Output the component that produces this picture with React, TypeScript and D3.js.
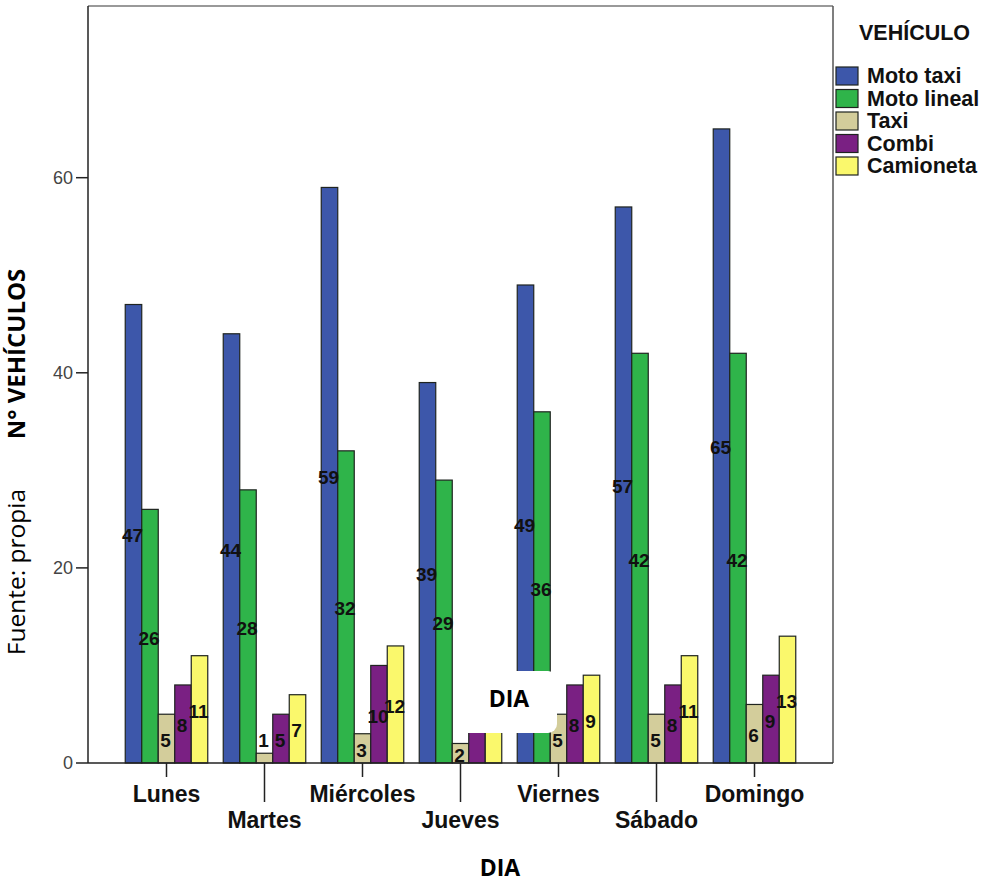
import React from "react";
import * as d3 from "d3";

// Vehicles counted per weekday, by vehicle type
const days = ["Lunes", "Martes", "Miércoles", "Jueves", "Viernes", "Sábado", "Domingo"];
const vehicleTypes = ["Moto taxi", "Moto lineal", "Taxi", "Combi", "Camioneta"];
const motoTaxi = [47, 44, 59, 39, 49, 57, 65];
const motoLineal = [26, 28, 32, 29, 36, 42, 42];
const taxi = [5, 1, 3, 2, 5, 5, 6];
const combi = [8, 5, 10, 9, 8, 8, 9];
const camioneta = [11, 7, 12, 9, 9, 11, 13];
const yTicks = [0, 20, 40, 60];

const seriesValues = [motoTaxi, motoLineal, taxi, combi, camioneta];
const colors = ["#3d57aa", "#2fb44a", "#d3cd9b", "#7a2083", "#faf86c"];

const W = 994;
const H = 883;
const left = 88;
const right = 833;
const top = 6;
const bottom = 763;

export default function App() {
  const x0 = d3
    .scaleBand<string>()
    .domain(days)
    .range([left, right])
    .paddingInner(0.158)
    .paddingOuter(0.38);
  const x1 = d3
    .scaleBand<string>()
    .domain(vehicleTypes)
    .range([0, x0.bandwidth()])
    .padding(0);
  const y = d3.scaleLinear().domain([0, 77.6]).range([bottom, top]);

  const labelFont = "'Liberation Sans', Arial, sans-serif";
  const titleFont = "'Open Sans', 'Noto Sans', sans-serif";

  return (
    <svg
      width={W}
      height={H}
      style={{ position: "absolute", left: 0, top: 0, background: "#fff" }}
      fontFamily={labelFont}
    >
      <rect x={0} y={0} width={W} height={H} fill="#fff" />

      {/* plot frame */}
      <line x1={left} x2={right} y1={top} y2={top} stroke="#777" strokeWidth={1.5} />
      <line x1={right} x2={right} y1={top} y2={bottom} stroke="#555" strokeWidth={1.5} />

      {/* bars */}
      {days.map((day, di) => (
        <g key={day} transform={`translate(${x0(day)},0)`}>
          {vehicleTypes.map((vt, si) => {
            const v = seriesValues[si][di];
            const bx = x1(vt)!;
            const bw = x1.bandwidth();
            return (
              <rect
                key={vt}
                x={bx}
                y={y(v)}
                width={bw}
                height={bottom - y(v)}
                fill={colors[si]}
                stroke="#1f2420"
                strokeWidth={1.2}
              />
            );
          })}
        </g>
      ))}

      {/* value labels */}
      {days.map((day, di) => (
        <g key={day + "-lab"} transform={`translate(${x0(day)},0)`}>
          {vehicleTypes.map((vt, si) => {
            const v = seriesValues[si][di];
            const cx = x1(vt)! + x1.bandwidth() / 2 - 1;
            const h = bottom - y(v);
            const cy = h < 15 ? y(v) - 13 : (y(v) + bottom) / 2 + 2;
            return (
              <text
                key={vt}
                x={cx}
                y={cy}
                textAnchor="middle"
                dominantBaseline="central"
                fontSize={19}
                fontWeight="bold"
                fill="#111"
              >
                {v}
              </text>
            );
          })}
        </g>
      ))}

      {/* y axis */}
      <line x1={left} x2={left} y1={top} y2={bottom} stroke="#222" strokeWidth={1.5} />
      {yTicks.map((t) => (
        <g key={t}>
          <line x1={left - 12} x2={left} y1={y(t)} y2={y(t)} stroke="#222" strokeWidth={1.5} />
          <text
            x={left - 15}
            y={y(t)}
            textAnchor="end"
            dominantBaseline="central"
            fontSize={18}
            fill="#444"
          >
            {t}
          </text>
        </g>
      ))}

      {/* x axis */}
      <line x1={left} x2={right} y1={bottom} y2={bottom} stroke="#222" strokeWidth={1.5} />
      {days.map((day, di) => {
        const cx = x0(day)! + x0.bandwidth() / 2;
        const low = di % 2 === 1;
        return (
          <g key={day + "-tick"}>
            <line x1={cx} x2={cx} y1={bottom} y2={low ? 802 : 777} stroke="#222" strokeWidth={1.5} />
            <text
              x={cx}
              y={low ? 828 : 802}
              textAnchor="middle"
              fontSize={23}
              fontWeight="bold"
              fill="#111"
            >
              {day}
            </text>
          </g>
        );
      })}

      {/* axis titles */}
      <text
        transform="translate(25,354) rotate(-90)"
        textAnchor="middle"
        fontFamily={titleFont}
        fontSize={24}
        fontWeight="bold"
        fill="#000"
      >
        N° VEHÍCULOS
      </text>
      <text
        transform="translate(25,572) rotate(-90)"
        textAnchor="middle"
        fontFamily={titleFont}
        fontSize={24.5}
        fill="#000"
      >
        Fuente: propia
      </text>
      <text
        x={500}
        y={876}
        textAnchor="middle"
        fontFamily={titleFont}
        fontSize={23}
        fontWeight="bold"
        fill="#000"
      >
        DIA
      </text>

      {/* legend */}
      <text x={859} y={40} fontSize={21.5} fontWeight="bold" fill="#111">
        VEHÍCULO
      </text>
      {vehicleTypes.map((vt, si) => {
        const ly = 67 + si * 22.5;
        return (
          <g key={vt + "-leg"}>
            <rect x={836} y={ly} width={22} height={18} fill={colors[si]} stroke="#1f2420" strokeWidth={1.2} />
            <text x={867} y={ly + 16} fontSize={21.5} fontWeight="bold" fill="#111">
              {vt}
            </text>
          </g>
        );
      })}

      {/* floating caption box */}
      <rect x={457} y={671} width={100} height={62} rx={9} ry={9} fill="#fff" />
      <text
        x={509}
        y={707}
        textAnchor="middle"
        fontFamily={titleFont}
        fontSize={23}
        fontWeight="bold"
        fill="#000"
      >
        DIA
      </text>
    </svg>
  );
}
